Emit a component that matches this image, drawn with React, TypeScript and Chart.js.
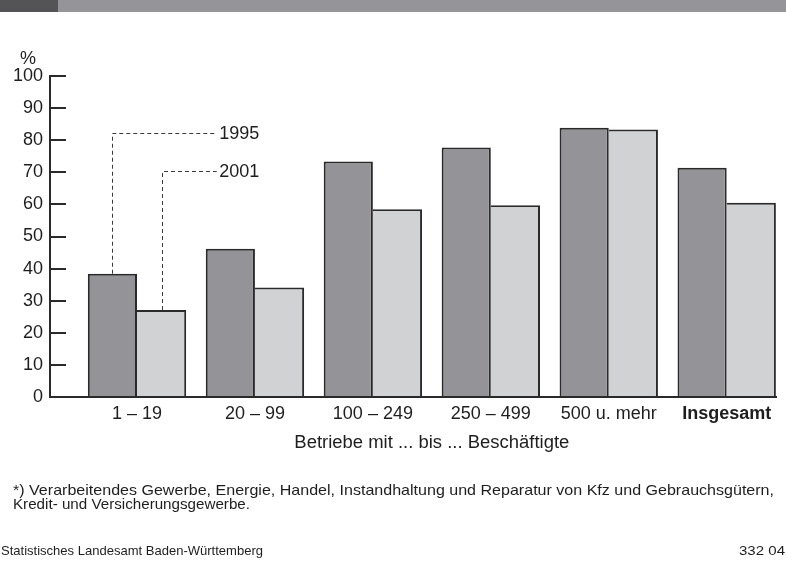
import React, { useEffect, useRef } from "react";
import { Chart, registerables } from "chart.js";

Chart.register(...registerables);

// ---- data ----
const categories = ["1 – 19", "20 – 99", "100 – 249", "250 – 499", "500 u. mehr", "Insgesamt"];
const seriesLabels = ["1995", "2001"];
const values1995 = [38.4, 46.2, 73.4, 77.7, 83.9, 71.4];
const values2001 = [27.1, 34.1, 58.5, 59.7, 83.3, 60.5];
const yTickValues = [0, 10, 20, 30, 40, 50, 60, 70, 80, 90, 100];
const legendLevels = [82.3, 70.5];
const xTitle = "Betriebe mit ... bis ... Beschäftigte";
const yUnit = "%";
const footnoteLines = [
  "*) Verarbeitendes Gewerbe, Energie, Handel, Instandhaltung und Reparatur von Kfz und Gebrauchsgütern,",
  "Kredit- und Versicherungsgewerbe.",
];
const sourceText = "Statistisches Landesamt Baden-Württemberg";
const chartCode = "332 04";

// ---- styles ----
const W = 786;
const H = 563;
const FONT = "'Liberation Sans', Arial, Helvetica, sans-serif";
const TEXT = "#1e1e1e";
const EDGE = "#2a2a2a";
const FILL_1995 = "#949498";
const FILL_2001 = "#d1d2d4";

function fitText(
  ctx: CanvasRenderingContext2D,
  text: string,
  x: number,
  y: number,
  width: number,
  font: string,
  align: "left" | "right" | "center"
) {
  ctx.save();
  ctx.font = font;
  ctx.fillStyle = TEXT;
  ctx.textBaseline = "middle";
  ctx.textAlign = "left";
  const natural = ctx.measureText(text).width;
  const s = width / natural;
  const left = align === "left" ? x : align === "right" ? x - width : x - width / 2;
  ctx.translate(left, y);
  ctx.scale(s, 1);
  ctx.fillText(text, 0, 0);
  ctx.restore();
}

const decorPlugin = {
  id: "decor",
  beforeDraw(chart: any) {
    const { ctx } = chart;
    ctx.save();
    ctx.fillStyle = "#ffffff";
    ctx.fillRect(0, 0, W, H);
    ctx.fillStyle = "#959599";
    ctx.fillRect(0, 0, W, 12);
    ctx.fillStyle = "#545457";
    ctx.fillRect(0, 0, 58, 12);
    ctx.restore();
  },
  afterDatasetsDraw(chart: any) {
    const { ctx } = chart;
    const xs = chart.scales.x;
    const ys = chart.scales.y;
    const endX = xs.getPixelForValue(1.676);
    ctx.save();
    ctx.strokeStyle = "#3a3a3a";
    ctx.lineWidth = 1;
    ctx.setLineDash([4, 3]);
    [0, 1].forEach((di) => {
      const bar = chart.getDatasetMeta(di).data[0];
      const bx = Math.round(bar.x) + 0.5;
      const ly = Math.round(ys.getPixelForValue(legendLevels[di])) + 0.5;
      ctx.beginPath();
      ctx.moveTo(bx, bar.y);
      ctx.lineTo(bx, ly);
      ctx.lineTo(endX, ly);
      ctx.stroke();
      ctx.save();
      ctx.setLineDash([]);
      ctx.fillStyle = TEXT;
      ctx.font = `18px ${FONT}`;
      ctx.textBaseline = "middle";
      ctx.textAlign = "left";
      ctx.fillText(seriesLabels[di], endX + 2.5, ly + 1);
      ctx.restore();
    });
    ctx.restore();
  },
  afterDraw(chart: any) {
    const { ctx, chartArea } = chart;
    const xs = chart.scales.x;
    ctx.save();
    ctx.fillStyle = TEXT;
    ctx.font = `18px ${FONT}`;
    ctx.textAlign = "center";
    ctx.textBaseline = "middle";
    ctx.fillText(yUnit, chartArea.left - 22, chartArea.top - 17);
    ctx.restore();
    const mid = (xs.getPixelForValue(1) + xs.getPixelForValue(categories.length)) / 2;
    fitText(ctx, xTitle, mid, chartArea.bottom + 46, 275, `18px ${FONT}`, "center");
    fitText(ctx, footnoteLines[0], 13, 490.5, 761, `15px ${FONT}`, "left");
    fitText(ctx, footnoteLines[1], 13, 504.5, 237, `15px ${FONT}`, "left");
    fitText(ctx, sourceText, 1, 551.5, 262, `13px ${FONT}`, "left");
    fitText(ctx, chartCode, 785, 551.5, 46, `13px ${FONT}`, "right");
  },
};

export default function App() {
  const ref = useRef<HTMLCanvasElement | null>(null);

  useEffect(() => {
    if (!ref.current) return;
    const chart = new Chart(ref.current, {
      type: "bar",
      data: {
        datasets: [
          {
            label: seriesLabels[0],
            data: values1995.map((v, i) => ({ x: i + 1, y: v })),
            backgroundColor: FILL_1995,
            borderColor: EDGE,
            borderWidth: { top: 2, left: 2, right: 2, bottom: 0 },
            borderSkipped: false,
          },
          {
            label: seriesLabels[1],
            data: values2001.map((v, i) => ({ x: i + 1, y: v })),
            backgroundColor: FILL_2001,
            borderColor: EDGE,
            borderWidth: { top: 2, left: 0, right: 2, bottom: 0 },
            borderSkipped: false,
          },
        ],
      },
      options: {
        responsive: false,
        animation: false,
        devicePixelRatio: 1,
        layout: { padding: { top: 76, left: 0, right: 10, bottom: 106 } },
        barPercentage: 1,
        categoryPercentage: 0.834,
        plugins: {
          legend: { display: false },
          tooltip: { enabled: false },
        },
        scales: {
          x: {
            type: "linear",
            min: 0.2623,
            max: 6.418,
            offset: false,
            z: 1,
            grid: { display: false },
            border: { display: true, color: EDGE, width: 2 },
            afterBuildTicks: (s: any) => {
              s.ticks = categories.map((_, i) => ({ value: i + 1 }));
            },
            afterFit: (s: any) => {
              s.height = 60;
            },
            ticks: {
              autoSkip: false,
              maxRotation: 0,
              padding: -2,
              color: TEXT,
              font: (c: any) => ({
                family: FONT,
                size: 18,
                weight: c.index === categories.length - 1 ? "bold" : "normal",
              }),
              callback: (v: any) => categories[Math.round(Number(v)) - 1] ?? "",
            },
          },
          y: {
            min: 0,
            max: 100,
            afterBuildTicks: (s: any) => {
              s.ticks = yTickValues.map((v) => ({ value: v }));
            },
            afterFit: (s: any) => {
              s.width = 50;
            },
            grid: {
              display: true,
              drawOnChartArea: false,
              drawTicks: true,
              tickLength: -16,
              color: EDGE,
              lineWidth: 2,
            },
            border: { display: true, color: EDGE, width: 2 },
            ticks: {
              padding: 23,
              color: TEXT,
              font: { family: FONT, size: 18 },
            },
          },
        },
      },
      plugins: [decorPlugin],
    } as any);
    return () => chart.destroy();
  }, []);

  return (
    <div style={{ position: "absolute", left: 0, top: 0, width: W, height: H, background: "#fff" }}>
      <canvas ref={ref} width={W} height={H} style={{ display: "block", width: W, height: H }} />
    </div>
  );
}
